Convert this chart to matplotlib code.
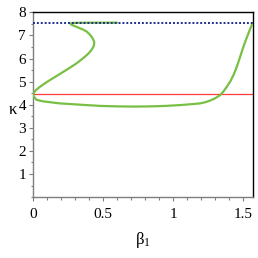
import matplotlib
matplotlib.use("Agg")
import matplotlib.pyplot as plt
from matplotlib.ticker import MultipleLocator, FixedLocator

# Data
upper_beta = [0.0, 0.02, 0.05, 0.085, 0.121, 0.17, 0.217, 0.265, 0.312, 0.35, 0.38, 0.402, 0.418, 0.429, 0.435, 0.437, 0.435, 0.428, 0.417, 0.402, 0.383, 0.355, 0.324, 0.296, 0.276, 0.268, 0.272, 0.29, 0.33, 0.40, 0.50, 0.60]
upper_kappa = [4.47, 4.63, 4.78, 4.93, 5.07, 5.25, 5.43, 5.61, 5.80, 5.98, 6.13, 6.26, 6.38, 6.49, 6.58, 6.67, 6.76, 6.85, 6.95, 7.06, 7.17, 7.26, 7.34, 7.41, 7.46, 7.50, 7.53, 7.545, 7.55, 7.555, 7.555, 7.555]
lower_beta = [0.0, 0.008, 0.026, 0.07, 0.121, 0.19, 0.264, 0.37, 0.479, 0.60, 0.72, 0.84, 0.95, 1.06, 1.14, 1.193, 1.23, 1.264, 1.30, 1.336, 1.36, 1.383, 1.41, 1.431, 1.45, 1.467, 1.485, 1.502, 1.52, 1.538, 1.553, 1.567]
lower_kappa = [4.47, 4.33, 4.21, 4.15, 4.11, 4.06, 4.03, 3.99, 3.95, 3.93, 3.92, 3.93, 3.95, 3.99, 4.03, 4.06, 4.11, 4.18, 4.28, 4.42, 4.58, 4.78, 5.03, 5.29, 5.57, 5.87, 6.20, 6.52, 6.82, 7.10, 7.33, 7.54]
red_level = 4.45
blue_level = 7.55
x_ticks = [0, 0.5, 1, 1.5]
x_tick_labels = ["0", "0.5", "1", "1.5"]
y_ticks = [1, 2, 3, 4, 5, 6, 7, 8]
y_tick_labels = ["1", "2", "3", "4", "5", "6", "7", "8"]

plt.rcParams['font.family'] = ['Liberation Serif', 'DejaVu Serif']
plt.rcParams['mathtext.fontset'] = 'custom'
plt.rcParams['mathtext.rm'] = 'Liberation Serif'
plt.rcParams['mathtext.it'] = 'Liberation Serif:italic'

fig = plt.figure(figsize=(2.58, 2.58), dpi=100)
ax = fig.add_axes([0.128, 0.236, 0.853, 0.716])

xmax = 1.5708
ax.axhline(red_level, color='#ff3b3b', lw=0.9, zorder=2)
ax.plot(upper_beta, upper_kappa, color='#78c043', lw=1.6, zorder=3,
        solid_capstyle='round', solid_joinstyle='round')
ax.plot(lower_beta, lower_kappa, color='#78c043', lw=1.6, zorder=3,
        solid_capstyle='round', solid_joinstyle='round')
ax.axhline(blue_level, color='#1f2f8a', lw=1.4, ls=(0, (1, 1)), zorder=4)

ax.set_xlim(0, xmax)
ax.set_ylim(0, 8)
ax.xaxis.set_major_locator(FixedLocator(x_ticks))
ax.set_xticklabels(x_tick_labels)
ax.xaxis.set_minor_locator(MultipleLocator(0.1))
ax.yaxis.set_major_locator(FixedLocator(y_ticks))
ax.set_yticklabels(y_tick_labels)
ax.yaxis.set_minor_locator(MultipleLocator(0.5))

for s in ['left', 'bottom']:
    ax.spines[s].set_color('#7f7f7f')
    ax.spines[s].set_linewidth(1.0)
for s in ['top', 'right']:
    ax.spines[s].set_color('black')
    ax.spines[s].set_linewidth(1.0)

ax.tick_params(which='major', direction='out', length=3, width=0.8, color='#7f7f7f', labelsize=11, pad=2)
ax.tick_params(which='minor', direction='out', length=1.8, width=0.8, color='#7f7f7f')
ax.tick_params(axis='x', which='major', pad=5)

ax.set_ylabel('κ', rotation=0, fontsize=12, labelpad=4, va='center')
ax.yaxis.set_label_coords(-0.09, 0.47)
ax.set_xlabel(r'β$_{\mathit{1}}$', fontsize=12, labelpad=6)

fig.savefig('out.png', dpi=100)
